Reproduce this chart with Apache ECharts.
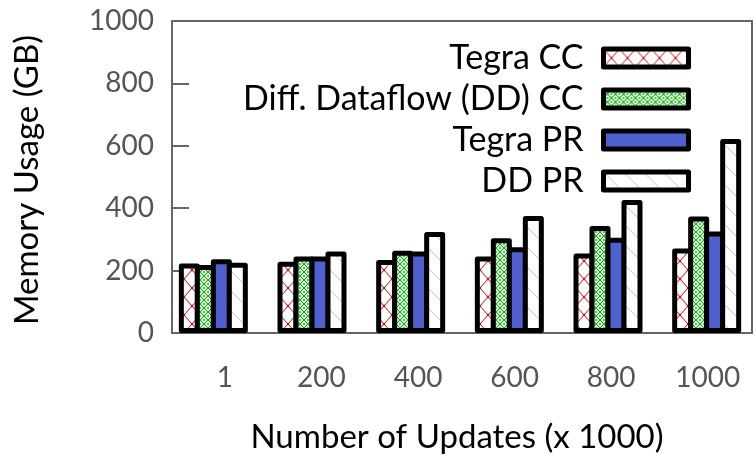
<!DOCTYPE html>
<html><head><meta charset="utf-8">
<script src="https://cdn.jsdelivr.net/npm/echarts@6/dist/echarts.min.js"></script>
<style>html,body{margin:0;padding:0;background:#fff}#c{width:756px;height:459px}</style>
</head><body><div id="c"></div>
<script>
const categories = ['1', '200', '400', '600', '800', '1000'];
const tickLabels = ['1', '200', '400', '600', '800', '1000'];
const seriesNames = ['Tegra CC', 'Diff. Dataflow (DD) CC', 'Tegra PR', 'DD PR'];
const tegraCC = [223, 228, 234, 245, 255, 271];
const ddCC = [218, 245, 264, 304, 343, 373];
const tegraPR = [236, 245, 261, 275, 305, 325];
const ddPR = [225, 261, 324, 375, 426, 622];

function tile(w, h, draw) {
  const c = document.createElement('canvas');
  c.width = w; c.height = h;
  const g = c.getContext('2d');
  g.fillStyle = '#fff'; g.fillRect(0, 0, w, h);
  draw(g, w, h);
  return { image: c, repeat: 'repeat' };
}
const redX = tile(16, 18, (g, w, h) => {
  g.strokeStyle = '#cc1010'; g.lineWidth = 1;
  g.beginPath(); g.moveTo(0, 0); g.lineTo(w, h); g.moveTo(w, 0); g.lineTo(0, h); g.stroke();
  g.fillStyle = '#cc1010';
  [[0,0],[w,0],[0,h],[w,h],[w/2,h/2]].forEach(p => { g.beginPath(); g.arc(p[0], p[1], 1.3, 0, Math.PI*2); g.fill(); });
});
const greenX = tile(8, 8, (g, w, h) => {
  g.strokeStyle = '#10b010'; g.lineWidth = 1.2;
  g.beginPath(); g.moveTo(0, 0); g.lineTo(w, h); g.moveTo(w, 0); g.lineTo(0, h); g.stroke();
  g.fillStyle = '#10b010';
  [[0,h/2],[w,h/2],[w/2,0],[w/2,h]].forEach(p => { g.beginPath(); g.arc(p[0], p[1], 1, 0, Math.PI*2); g.fill(); });
});
const grayDiag = tile(20, 20, (g, w, h) => {
  g.strokeStyle = '#c4c4c4'; g.lineWidth = 1;
  g.beginPath(); g.moveTo(-2, -2); g.lineTo(w + 2, h + 2); g.stroke();
});
const fills = [redX, greenX, '#5060cf', grayDiag];
const values = [tegraCC, ddCC, tegraPR, ddPR];

const FONT = 'Lato';
const chart = echarts.init(document.getElementById('c'), null, { renderer: 'canvas' });
chart.setOption({
  animation: false,
  textStyle: { fontFamily: FONT },
  grid: [
    { left: 172, top: 21, width: 580, height: 312, show: true, borderColor: '#666', borderWidth: 2, backgroundColor: 'transparent' },
    { left: 164, top: 21, width: 596, height: 312 },
    { left: 176.6, top: 21, width: 592.8, height: 312 }
  ],
  xAxis: [
    { gridIndex: 0, type: 'category', data: categories, axisLine: { show: false }, axisTick: { show: false }, axisLabel: { show: false } },
    { gridIndex: 1, type: 'category', data: categories, axisLine: { show: false }, axisTick: { show: false }, axisLabel: { show: false } },
    { gridIndex: 2, type: 'category', data: tickLabels, axisLine: { show: false }, axisTick: { show: false },
      axisLabel: { show: true, color: '#555', fontSize: 28, fontFamily: FONT, margin: 31 } }
  ],
  yAxis: [
    { gridIndex: 0, type: 'value', min: 0, max: 1000, interval: 200, splitLine: { show: false },
      axisLine: { show: true, lineStyle: { color: '#666', width: 2 } },
      axisTick: { show: true, inside: true, length: 17, lineStyle: { color: '#666', width: 2 } },
      axisLabel: { color: '#555', fontSize: 28, fontFamily: FONT, margin: 18, formatter: v => String(v) } },
    { gridIndex: 1, type: 'value', min: 0, max: 1000, show: false, splitLine: { show: false } },
    { gridIndex: 2, type: 'value', min: 0, max: 1000, show: false, splitLine: { show: false } }
  ],
  legend: {
    orient: 'vertical', right: 65, top: 41, align: 'right', icon: 'rect', padding: 0,
    itemWidth: 85, itemHeight: 18, itemGap: 7,
    itemStyle: { borderColor: '#000', borderWidth: 5 },
    textStyle: { fontSize: 34, color: '#000', fontFamily: FONT, padding: [0, 15, 0, 0] },
    data: seriesNames
  },
  series: seriesNames.map((n, i) => ({
    name: n, type: 'bar', xAxisIndex: 1, yAxisIndex: 1,
    barWidth: 21, barGap: '-23.81%', data: values[i],
    itemStyle: { color: fills[i], borderColor: '#000', borderWidth: 5, borderJoin: 'round' }
  })),
  graphic: [
    { type: 'text', x: 457, y: 437, style: { text: 'Number of Updates (x 1000)', font: '33px ' + FONT, fill: '#000', align: 'center', verticalAlign: 'middle' } },
    { type: 'text', x: 27, y: 180, rotation: Math.PI / 2, style: { text: 'Memory Usage (GB)', font: '33px ' + FONT, fill: '#000', align: 'center', verticalAlign: 'middle' } }
  ]
});
</script></body></html>
